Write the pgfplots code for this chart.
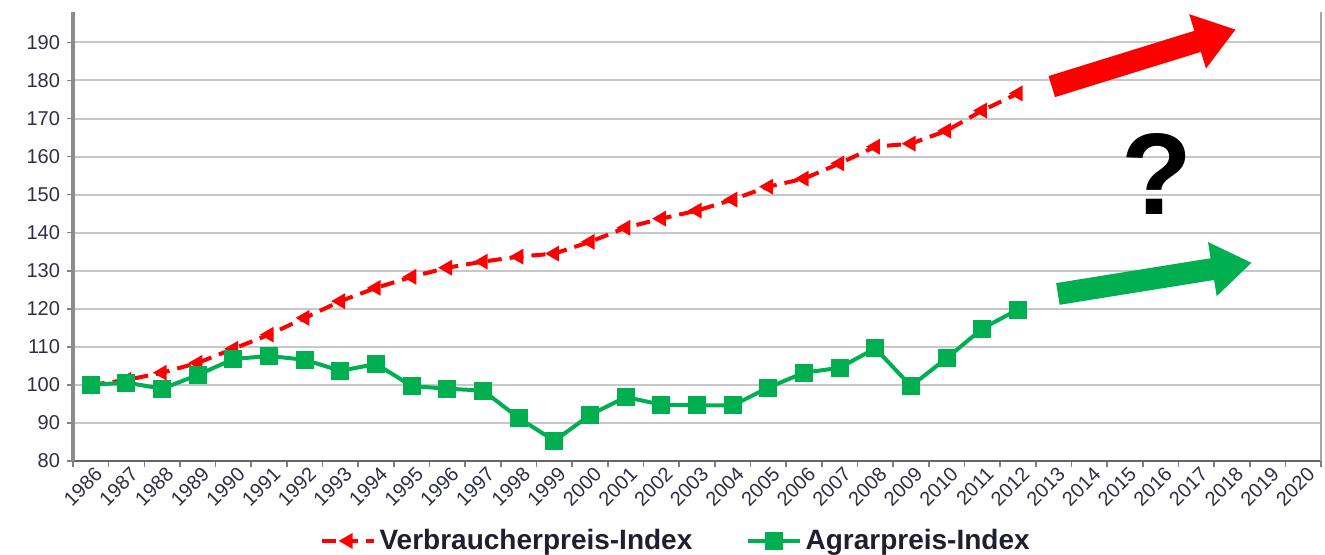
\documentclass[border=0pt]{standalone}
\usepackage{pgfplots}
\pgfplotsset{compat=1.18}
\usetikzlibrary{arrows.meta}
\usepackage{fontspec}
\setmainfont{Liberation Sans}
\definecolor{cpired}{HTML}{FF0000}
\definecolor{agrgreen}{HTML}{00B050}
\definecolor{gridgray}{HTML}{C8C8C8}
\definecolor{labelc}{HTML}{2E2E48}
\definecolor{legc}{HTML}{1F1F30}
\begin{document}
\begin{tikzpicture}
\begin{axis}[
  name=ax, scale only axis, width=624pt, height=224.5pt,
  xmin=-0.5, xmax=34.5, ymin=80, ymax=198,
  axis lines=left, axis line style={-},
  x axis line style={draw=black!60, line width=1pt},
  y axis line style={draw=black!45, line width=1.6pt},
  xtick={-0.5,0.5,...,34.5}, x tick label as interval,
  xticklabels={1986,1987,1988,1989,1990,1991,1992,1993,1994,1995,1996,1997,1998,1999,2000,2001,2002,2003,2004,2005,2006,2007,2008,2009,2010,2011,2012,2013,2014,2015,2016,2017,2018,2019,2020},
  ytick={80,90,...,190},
  ymajorgrids, grid style={gridgray, line width=1pt},
  tick align=outside, major tick length=3pt,
  tick style={black!50, line width=0.8pt},
  ticklabel style={font=\fontsize{10}{12}\selectfont, text=labelc},
  /pgf/number format/assume math mode=true,
  xticklabel style={rotate=45, anchor=north east, inner sep=0.5pt, xshift=2pt},
  clip=false,
  legend style={at={(0.484,-0.178)}, anchor=center, draw=none, fill=none,
    legend columns=2, font=\bfseries\fontsize{14}{16}\selectfont, text=legc,
    /tikz/every even column/.append style={column sep=25pt}},
  legend cell align=left,
  legend image code/.code={\draw[mark repeat=2,mark phase=2,#1] plot coordinates {(0cm,0cm) (0.45cm,0cm) (0.9cm,0cm)};},
]
\addplot[cpired, line width=2pt, dash pattern=on 7pt off 4pt, mark=triangle*, mark size=2.6pt, mark options={solid, rotate=90}] coordinates {
(0,100) (1,101.3) (2,103.2) (3,105.8) (4,109.5) (5,113.2) (6,117.6) (7,122) (8,125.5) (9,128.4)
(10,130.8) (11,132.4) (12,133.7) (13,134.5) (14,137.6) (15,141.3) (16,143.7) (17,145.8) (18,148.7)
(19,152.1) (20,154.2) (21,158.2) (22,162.6) (23,163.4) (24,166.8) (25,172.1) (26,176.6)};
\addlegendentry{Verbraucherpreis-Index}
\addplot[agrgreen, line width=2pt, mark=square*, mark size=3.5pt] coordinates {
(0,100) (1,100.6) (2,99) (3,102.6) (4,106.8) (5,107.6) (6,106.6) (7,103.7) (8,105.5) (9,99.7)
(10,99) (11,98.5) (12,91.3) (13,85.3) (14,92.1) (15,96.8) (16,94.8) (17,94.6) (18,94.6)
(19,99.3) (20,103.2) (21,104.5) (22,109.6) (23,99.7) (24,107) (25,114.8) (26,119.8)};
\addlegendentry{Agrarpreis-Index}
\draw[black!35, line width=1.2pt] (rel axis cs:1,0) -- (rel axis cs:1,1);
\draw[cpired, line width=11pt, -{Triangle[length=20pt,width=27pt]}] (axis cs:26.95,178.4) -- (axis cs:32.11,193.4);
\draw[agrgreen, line width=11pt, -{Triangle[length=20pt,width=26pt]}] (axis cs:27.12,123.9) -- (axis cs:32.56,132.1);
\node[font=\bfseries\fontsize{58}{58}\selectfont] at (axis cs:29.9,155.5) {?};
\end{axis}
\pgfresetboundingbox
\path[use as bounding box] (ax.south west) ++(-36.5pt,-47pt) rectangle ++(662.5pt,277.5pt);
\end{tikzpicture}
\end{document}
